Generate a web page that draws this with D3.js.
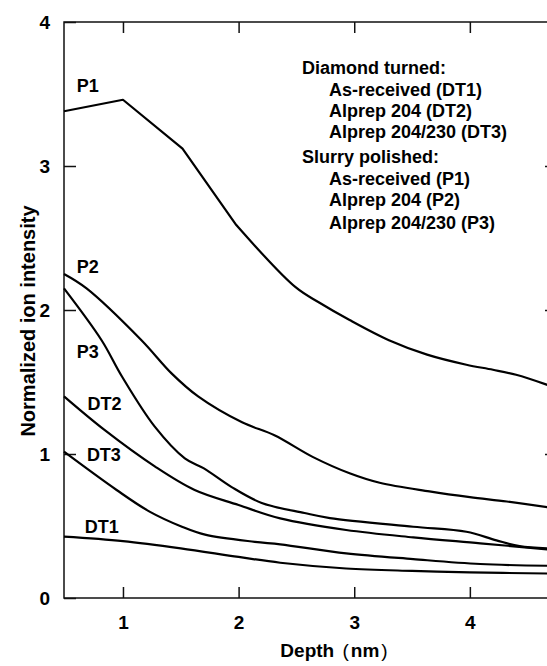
<!DOCTYPE html>
<html>
<head>
<meta charset="utf-8">
<script src="https://cdn.jsdelivr.net/npm/d3@7"></script>
<style>
  body { margin: 0; background: #fff; }
  svg { display: block; font-family: "Liberation Sans", Arial, sans-serif; }
</style>
</head>
<body>
<div id="chart"></div>
<script>
/* curves: [depth nm, normalized intensity] */
var p1  = [[0.49,3.38],[1.0,3.46],[1.515,3.12],[1.98,2.59],[2.49,2.16],[2.7,2.05],[2.96,1.93],[3.3,1.79],[3.63,1.69],[3.97,1.62],[4.2,1.585],[4.4,1.55],[4.67,1.48]];
var p2  = [[0.49,2.25],[0.685,2.15],[1.16,1.79],[1.42,1.56],[1.65,1.40],[2.03,1.22],[2.31,1.13],[2.64,0.98],[2.96,0.866],[3.22,0.80],[3.65,0.74],[4.0,0.70],[4.32,0.67],[4.67,0.63]];
var p3  = [[0.49,2.15],[0.815,1.79],[0.99,1.54],[1.275,1.19],[1.535,0.97],[1.7,0.90],[1.94,0.77],[2.2,0.66],[2.57,0.59],[2.79,0.555],[3.51,0.495],[3.97,0.46],[4.23,0.40],[4.43,0.36],[4.67,0.345]];
var dt2 = [[0.49,1.40],[0.84,1.167],[1.275,0.914],[1.62,0.75],[2.0,0.646],[2.36,0.553],[2.93,0.472],[3.51,0.421],[4.09,0.38],[4.67,0.338]];
var dt3 = [[0.49,1.016],[0.945,0.75],[1.23,0.60],[1.51,0.495],[1.71,0.44],[2.14,0.39],[2.36,0.373],[2.93,0.31],[3.51,0.27],[4.09,0.236],[4.67,0.224]];
var dt1 = [[0.49,0.426],[1.0,0.395],[1.5,0.345],[2.0,0.285],[2.36,0.245],[2.93,0.205],[3.5,0.188],[4.0,0.178],[4.67,0.17]];

var seriesNames = ["P1", "P2", "P3", "DT2", "DT3", "DT1"];
var seriesData  = [p1, p2, p3, dt2, dt3, dt1];
/* where each curve name sits, in data units */
var labelDepth     = [0.696, 0.696, 0.696, 0.84, 0.835, 0.817];
var labelIntensity = [3.56, 2.30, 1.71, 1.354, 0.993, 0.495];

var xTicks = [1, 2, 3, 4];
var yTicks = [0, 1, 2, 3, 4];

var legendTitles = ["Diamond turned:", "Slurry polished:"];
var legendItems = [
  ["As-received (DT1)", "Alprep 204 (DT2)", "Alprep 204/230 (DT3)"],
  ["As-received (P1)", "Alprep 204 (P2)", "Alprep 204/230 (P3)"]
];

/* layout */
var W = 547, H = 666;
var margin = { left: 64, right: 556, top: 22, bottom: 598 };

var svg = d3.select("#chart").append("svg")
  .attr("width", W)
  .attr("height", H);

svg.append("rect").attr("width", W).attr("height", H).attr("fill", "#fff");

var x = d3.scaleLinear().domain([0.49, 4.745]).range([margin.left, margin.right]);
var y = d3.scaleLinear().domain([0, 4]).range([margin.bottom, margin.top]);

/* frame */
svg.append("rect")
  .attr("x", margin.left).attr("y", margin.top)
  .attr("width", margin.right - margin.left).attr("height", margin.bottom - margin.top)
  .attr("fill", "none")
  .attr("stroke", "#111")
  .attr("stroke-width", 1.5);

function styleAxis(g, showText) {
  g.select(".domain").remove();
  g.selectAll(".tick line").attr("stroke", "#111").attr("stroke-width", 1.5);
  g.selectAll(".tick text")
    .attr("fill", "#000")
    .style("font-family", "'Liberation Sans', Arial, sans-serif")
    .style("font-size", "19px")
    .style("font-weight", "bold")
    .style("display", showText ? null : "none");
}

svg.append("g")
  .attr("transform", "translate(" + margin.left + ",0)")
  .call(d3.axisLeft(y).tickValues(yTicks).tickFormat(d3.format("d")).tickSizeInner(-12).tickSizeOuter(0).tickPadding(14))
  .call(styleAxis, true);

svg.append("g")
  .attr("transform", "translate(" + margin.right + ",0)")
  .call(d3.axisRight(y).tickValues([1, 2, 3]).tickSizeInner(-11).tickSizeOuter(0))
  .call(styleAxis, false);

svg.append("g")
  .attr("transform", "translate(0," + margin.bottom + ")")
  .call(d3.axisBottom(x).tickValues(xTicks).tickFormat(d3.format("d")).tickSizeInner(-11).tickSizeOuter(0).tickPadding(18))
  .call(styleAxis, true);

svg.append("g")
  .attr("transform", "translate(0," + margin.top + ")")
  .call(d3.axisTop(x).tickValues(xTicks).tickSizeInner(-11).tickSizeOuter(0))
  .call(styleAxis, false);

/* curves */
var smooth = d3.line()
  .x(function (d) { return x(d[0]); })
  .y(function (d) { return y(d[1]); })
  .curve(d3.curveCatmullRom.alpha(0.5));
var straight = d3.line()
  .x(function (d) { return x(d[0]); })
  .y(function (d) { return y(d[1]); });

// P1 has sharp corners up to ~2 nm, then bends smoothly
function curvePath(d, i) {
  if (i !== 0) return smooth(d);
  var head = straight(d.slice(0, 4));
  var tail = smooth(d.slice(3));
  return head + "L" + tail.slice(1);
}

svg.selectAll("path.curve")
  .data(seriesData)
  .enter()
  .append("path")
  .attr("class", "curve")
  .attr("d", curvePath)
  .attr("fill", "none")
  .attr("stroke", "#000")
  .attr("stroke-width", 2.2)
  .attr("stroke-linejoin", "round");

/* curve names */
svg.selectAll("text.lbl")
  .data(seriesNames)
  .enter()
  .append("text")
  .attr("class", "lbl")
  .attr("x", function (d, i) { return x(labelDepth[i]); })
  .attr("y", function (d, i) { return y(labelIntensity[i]); })
  .attr("dy", "0.36em")
  .attr("text-anchor", "middle")
  .style("font-size", "18px")
  .style("font-weight", "bold")
  .text(function (d) { return d; });

/* legend block */
var legY = [[68, 89.5, 110.5, 131.5], [157, 178.5, 200, 222.5]];
legendTitles.forEach(function (t, gi) {
  svg.append("text")
    .attr("x", 302).attr("y", legY[gi][0]).attr("dy", "0.36em")
    .style("font-size", "18px").style("font-weight", "bold")
    .text(t);
  legendItems[gi].forEach(function (s, k) {
    svg.append("text")
      .attr("x", 329).attr("y", legY[gi][k + 1]).attr("dy", "0.36em")
      .style("font-size", "18px").style("font-weight", "bold")
      .text(s);
  });
});

/* axis titles */
svg.append("text")
  .attr("transform", "translate(35," + 321 + ") rotate(-90)")
  .attr("text-anchor", "middle")
  .style("font-size", "20px")
  .style("font-weight", "bold")
  .text("Normalized ion intensity");

var xt = svg.append("text")
  .attr("x", 334).attr("y", 657)
  .attr("text-anchor", "middle")
  .style("font-size", "19px")
  .style("font-weight", "bold");
xt.append("tspan").text("Depth ");
xt.append("tspan").style("font-weight", "normal").attr("dx", 3).text("(");
xt.append("tspan").attr("dx", 2).text("nm");
xt.append("tspan").style("font-weight", "normal").attr("dx", 2).text(")");
</script>
</body>
</html>
